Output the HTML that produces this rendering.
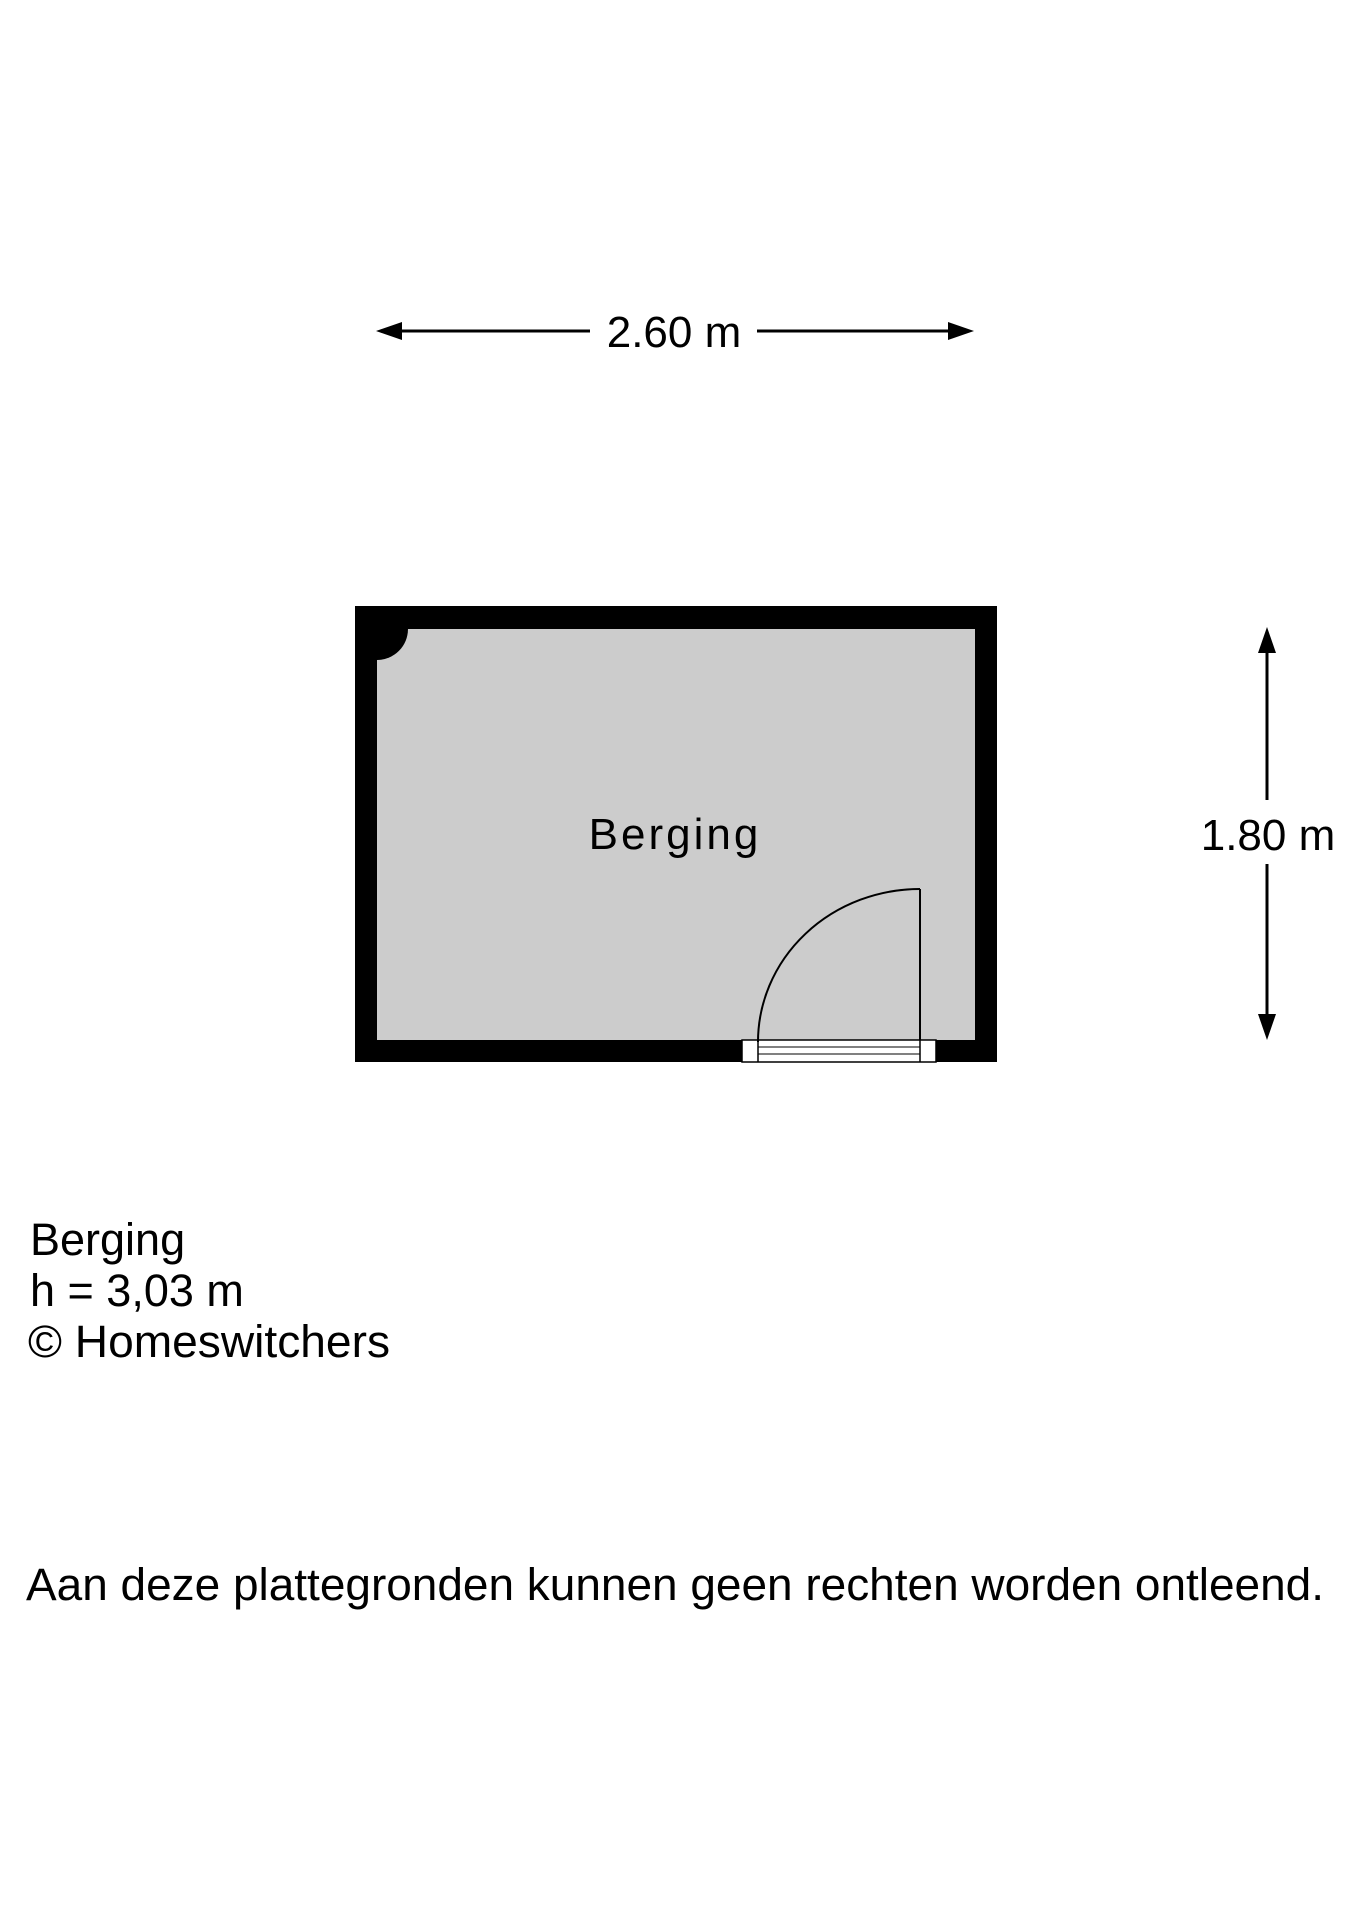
<!DOCTYPE html>
<html><head><style>html,body{margin:0;padding:0;background:#fff}</style></head>
<body>
<svg width="1358" height="1920" viewBox="0 0 1358 1920" xmlns="http://www.w3.org/2000/svg" font-family="Liberation Sans, Arial, sans-serif">
<rect width="1358" height="1920" fill="#fff"/>
<!-- top dimension -->
<line x1="385" y1="331" x2="590" y2="331" stroke="#000" stroke-width="3"/>
<line x1="757" y1="331" x2="965" y2="331" stroke="#000" stroke-width="3"/>
<polygon points="376,331 402,322 402,340" fill="#000"/>
<polygon points="974,331 948,322 948,340" fill="#000"/>
<text x="674" y="347" font-size="44" text-anchor="middle">2.60 m</text>
<!-- room -->
<rect x="355" y="606" width="642" height="456" fill="#000"/>
<rect x="377" y="629" width="598" height="411" fill="#cccccc"/>
<path d="M377 629 H408 A31 31 0 0 1 377 660 Z" fill="#000"/>
<!-- door opening -->
<rect x="742" y="1040" width="194" height="22" fill="#fff" stroke="#000" stroke-width="1.5"/>
<line x1="758" y1="1040" x2="758" y2="1062" stroke="#000" stroke-width="1.5"/>
<line x1="920" y1="1040" x2="920" y2="1062" stroke="#000" stroke-width="1.5"/>
<line x1="758" y1="1047" x2="920" y2="1047" stroke="#000" stroke-width="1"/>
<line x1="758" y1="1054" x2="920" y2="1054" stroke="#000" stroke-width="1"/>
<line x1="920" y1="889" x2="920" y2="1040" stroke="#000" stroke-width="2"/>
<path d="M920 889 A162 153 0 0 0 758 1042" fill="none" stroke="#000" stroke-width="2"/>
<text x="675" y="849" font-size="44" text-anchor="middle" letter-spacing="3">Berging</text>
<!-- right dimension -->
<line x1="1267" y1="640" x2="1267" y2="800" stroke="#000" stroke-width="3"/>
<line x1="1267" y1="864" x2="1267" y2="1026" stroke="#000" stroke-width="3"/>
<polygon points="1267,627 1258,653 1276,653" fill="#000"/>
<polygon points="1267,1040 1258,1014 1276,1014" fill="#000"/>
<text x="1268" y="850" font-size="44" text-anchor="middle">1.80 m</text>
<!-- info -->
<text x="30" y="1255" font-size="45">Berging</text>
<text x="30" y="1306" font-size="45">h = 3,03 m</text>
<text x="28" y="1357" font-size="45" textLength="362" lengthAdjust="spacingAndGlyphs">© Homeswitchers</text>
<text x="26" y="1600" font-size="45" textLength="1298" lengthAdjust="spacingAndGlyphs">Aan deze plattegronden kunnen geen rechten worden ontleend.</text>
</svg>
</body></html>
